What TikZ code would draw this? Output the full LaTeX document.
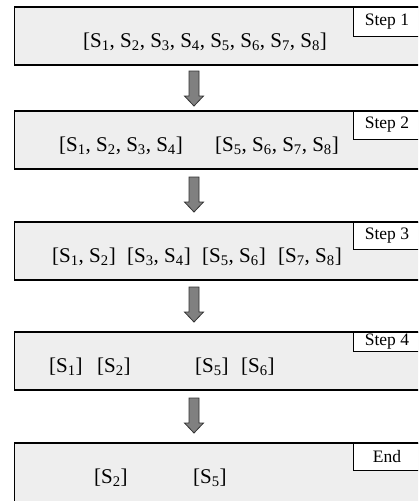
\documentclass[tikz,border=0pt]{standalone}
\usepackage{fontspec}
\setmainfont{Liberation Serif}
\newcommand{\Sn}[1]{S\textsubscript{#1}}
\definecolor{boxgray}{HTML}{EEEEEE}
\definecolor{arrowgray}{HTML}{808080}
\begin{document}
\begin{tikzpicture}[x=1pt, y=-1pt,
        stepbox/.style={draw=black, line width=1.5pt, fill=boxgray, anchor=north west,
            minimum width=420pt, minimum height=58pt, inner sep=0pt, outer sep=0pt},
        tagbox/.style={draw=black, line width=1pt, fill=white, anchor=north west,
            minimum width=68pt, inner sep=0pt, outer sep=0pt, font=\fontsize{17.5}{20}\selectfont},
        seq/.style={anchor=base west, inner sep=0pt, font=\fontsize{21}{25}\selectfont},
        down/.pic={
            \draw[fill=arrowgray, draw=black!80, line width=0.8pt]
                (-5,0) -- (5,0) -- (5,25) -- (9.5,25) -- (0,35) -- (-9.5,25) -- (-5,25) -- cycle;
        }]
        \useasboundingbox (0,0) rectangle (418,501);
        \clip (0,0) rectangle (418,501);
        % boxes
        \node[stepbox] (box1) at (14.5,7) {};
        \node[stepbox] (box2) at (14.5,111) {};
        \node[stepbox] (box3) at (14.5,222) {};
        \node[stepbox] (box4) at (14.5,332) {};
        \node[stepbox, minimum height=64pt] (box5) at (14.5,443) {};
        % step tags
        \node[tagbox, minimum height=29pt] (tag1) at (353,7) {Step 1};
        \node[tagbox, minimum height=28pt] (tag2) at (353,111) {Step 2};
        \node[tagbox, minimum height=27pt] (tag3) at (353,222) {Step 3};
        \node[tagbox, minimum height=19pt] (tag4) at (353,332) {Step 4};
        \node[tagbox, minimum height=27pt] (tag5) at (353,443) {End};
        % sequences
        \node[seq] (s1a) at (83,47) {[\Sn{1}, \Sn{2}, \Sn{3}, \Sn{4}, \Sn{5}, \Sn{6}, \Sn{7}, \Sn{8}]};
        \node[seq] (s2a) at (59,151) {[\Sn{1}, \Sn{2}, \Sn{3}, \Sn{4}]};
        \node[seq] (s2b) at (215,151) {[\Sn{5}, \Sn{6}, \Sn{7}, \Sn{8}]};
        \node[seq] (s3a) at (52,262) {[\Sn{1}, \Sn{2}]};
        \node[seq] (s3b) at (127,262) {[\Sn{3}, \Sn{4}]};
        \node[seq] (s3c) at (202,262) {[\Sn{5}, \Sn{6}]};
        \node[seq] (s3d) at (278,262) {[\Sn{7}, \Sn{8}]};
        \node[seq] (s4a) at (49,372) {[\Sn{1}]};
        \node[seq] (s4b) at (97,372) {[\Sn{2}]};
        \node[seq] (s4c) at (195,372) {[\Sn{5}]};
        \node[seq] (s4d) at (241,372) {[\Sn{6}]};
        \node[seq] (s5a) at (94,483) {[\Sn{2}]};
        \node[seq] (s5b) at (193,483) {[\Sn{5}]};
        % arrows
        \coordinate (a1) at (194,71);
        \coordinate (a2) at (194,177);
        \coordinate (a3) at (194,287);
        \coordinate (a4) at (194,398);
        \pic at (a1) {down};
        \pic at (a2) {down};
        \pic at (a3) {down};
        \pic at (a4) {down};
\end{tikzpicture}
\end{document}
